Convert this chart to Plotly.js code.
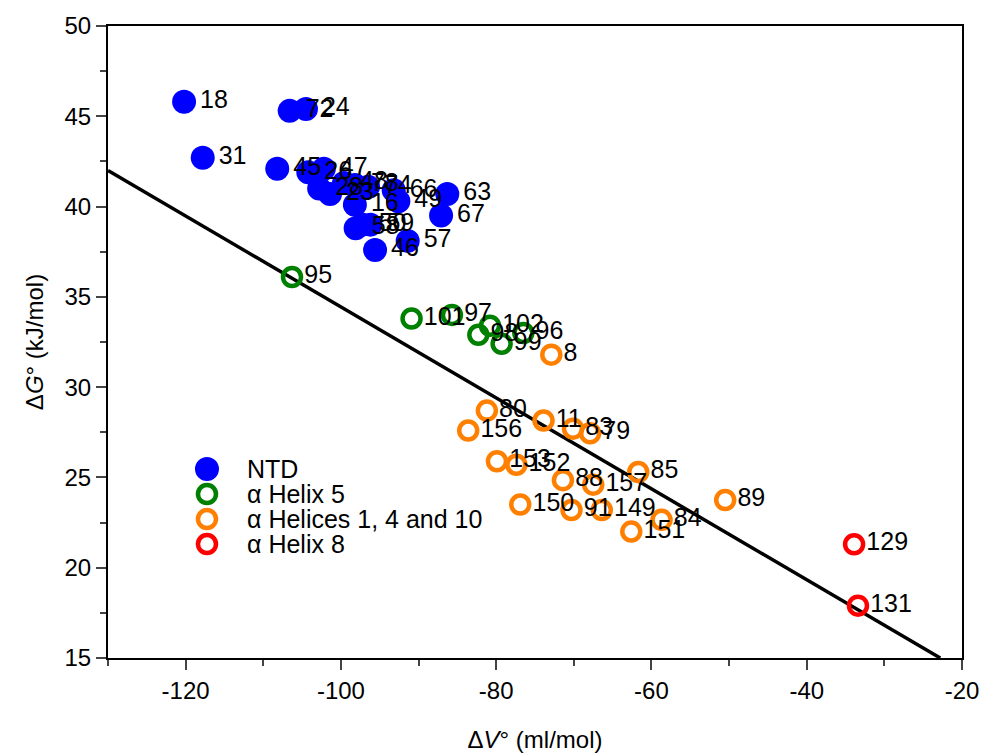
<!DOCTYPE html>
<html>
<head>
<meta charset="utf-8">
<script src="https://cdn.plot.ly/plotly-3.0.1.min.js"></script>
<style>html,body{margin:0;padding:0;background:#fff;}#chart{width:984px;height:755px;}</style>
</head>
<body>
<div id="chart"></div>
<script>
// NTD (filled blue)
const ntdLabels = ["18","72","24","31","45","26","47","28","23","48","78","74","66","16","49","63","67","58","50","59","46","57"];
const ntdX = [-120.2,-106.6,-104.5,-117.8,-108.2,-104.2,-102.2,-102.8,-101.4,-99.6,-98.2,-96.5,-93.2,-98.2,-92.6,-86.3,-87.1,-98.1,-97.2,-96.2,-95.6,-91.4];
const ntdY = [45.8,45.3,45.4,42.7,42.1,41.9,42.1,41.0,40.7,41.3,41.2,41.1,40.9,40.1,40.3,40.7,39.5,38.8,39.0,39.0,37.6,38.1];

// alpha Helix 5 (open green)
const h5Labels = ["95","101","97","98","102","99","96"];
const h5X = [-106.3,-90.9,-85.7,-82.3,-80.8,-79.3,-76.5];
const h5Y = [36.1,33.8,34.0,32.9,33.4,32.4,33.0];

// alpha Helices 1, 4 and 10 (open orange)
const hxLabels = ["8","80","156","11","83","79","153","152","88","157","85","89","150","91","149","84","151"];
const hxX = [-72.9,-81.2,-83.6,-73.9,-70.1,-67.9,-79.9,-77.4,-71.4,-67.5,-61.7,-50.5,-76.9,-70.3,-66.4,-58.7,-62.6];
const hxY = [31.8,28.7,27.6,28.15,27.7,27.45,25.9,25.7,24.85,24.6,25.3,23.75,23.5,23.2,23.2,22.65,22.0];

// alpha Helix 8 (open red)
const h8Labels = ["129","131"];
const h8X = [-33.9,-33.4];
const h8Y = [21.3,17.9];

// linear fit line endpoints
const fitX = [-130, -22.8];
const fitY = [42.0, 15.0];

// tick labels (hyphen-minus as in the reference)
const xTickVals = [-120, -100, -80, -60, -40, -20];
const xTickText = ["-120", "-100", "-80", "-60", "-40", "-20"];
const yTickVals = [15, 20, 25, 30, 35, 40, 45, 50];
const yTickText = ["15", "20", "25", "30", "35", "40", "45", "50"];

// legend entries
const seriesNames = ["NTD", "\u03b1 Helix 5", "\u03b1 Helices 1, 4 and 10", "\u03b1 Helix 8"];
const seriesColors = ["#0000FF", "#008000", "#FF8000", "#FF0000"];
const seriesFilled = [true, false, false, false];

const FONT = "Arial, 'Liberation Sans', sans-serif";
const labelFont = {family: FONT, size: 25, color: "#000"};

function scatter(xs, ys, labels, idx) {
  const filled = seriesFilled[idx];
  const c = seriesColors[idx];
  return {x: xs, y: ys, text: labels, name: seriesNames[idx], mode: "markers+text",
          textposition: "middle right", textfont: labelFont, showlegend: false, hoverinfo: "skip",
          marker: filled ? {symbol: "circle", size: 24, color: c, line: {width: 0}}
                         : {symbol: "circle-open", size: 18, color: c, line: {width: 4.5, color: c}}};
}

const traces = [
  {x: fitX, y: fitY, mode: "lines", line: {color: "#000", width: 3.5}, showlegend: false, hoverinfo: "skip"},
  scatter(ntdX, ntdY, ntdLabels, 0),
  scatter(h5X, h5Y, h5Labels, 1),
  scatter(hxX, hxY, hxLabels, 2),
  scatter(h8X, h8Y, h8Labels, 3)
];

// manual legend (bigger symbols than Plotly's legend allows)
const legSymX = 0.1159, legTextX = 0.1604;
const legRowY = [0.2991, 0.2595, 0.2199, 0.1804];
const shapes = [], annotations = [];
seriesNames.forEach((nm, i) => {
  const filled = seriesFilled[i];
  const r = filled ? 12 : 9;
  shapes.push({type: "circle", xref: "paper", yref: "paper", xsizemode: "pixel", ysizemode: "pixel",
               xanchor: legSymX, yanchor: legRowY[i], x0: -r, x1: r, y0: -r, y1: r,
               fillcolor: filled ? seriesColors[i] : "rgba(0,0,0,0)",
               line: {color: seriesColors[i], width: filled ? 0 : 4.5}});
  annotations.push({xref: "paper", yref: "paper", x: legTextX, y: legRowY[i], xanchor: "left", yanchor: "middle",
                    text: nm, showarrow: false, font: {family: FONT, size: 25, color: "#000"}});
});

const layout = {
  width: 984, height: 755,
  margin: {l: 108, r: 22, t: 26, b: 97},
  paper_bgcolor: "#fff", plot_bgcolor: "#fff",
  font: {family: FONT, size: 24, color: "#000"},
  showlegend: false,
  shapes: shapes,
  annotations: annotations,
  xaxis: {range: [-130, -20], showgrid: false, zeroline: false,
          tickmode: "array", tickvals: xTickVals, ticktext: xTickText, ticks: "outside", ticklen: 10, tickwidth: 2,
          minor: {tickmode: "linear", tick0: -130, dtick: 10, ticks: "outside", ticklen: 6, tickwidth: 2, showgrid: false},
          showline: true, linewidth: 2, linecolor: "#000", mirror: true,
          tickfont: {family: FONT, size: 24},
          title: {text: "\u0394<i>V</i>\u00b0 (ml/mol)", font: {family: FONT, size: 24}, standoff: 28}},
  yaxis: {range: [15, 50], showgrid: false, zeroline: false,
          tickmode: "array", tickvals: yTickVals, ticktext: yTickText, ticks: "outside", ticklen: 10, tickwidth: 2,
          minor: {tickmode: "linear", tick0: 15, dtick: 2.5, ticks: "outside", ticklen: 6, tickwidth: 2, showgrid: false},
          showline: true, linewidth: 2, linecolor: "#000", mirror: true,
          tickfont: {family: FONT, size: 24},
          title: {text: "\u0394<i>G</i>\u00b0 (kJ/mol)", font: {family: FONT, size: 24}, standoff: 14}}
};

Plotly.newPlot("chart", traces, layout, {displayModeBar: false, staticPlot: true});
</script>
</body>
</html>
